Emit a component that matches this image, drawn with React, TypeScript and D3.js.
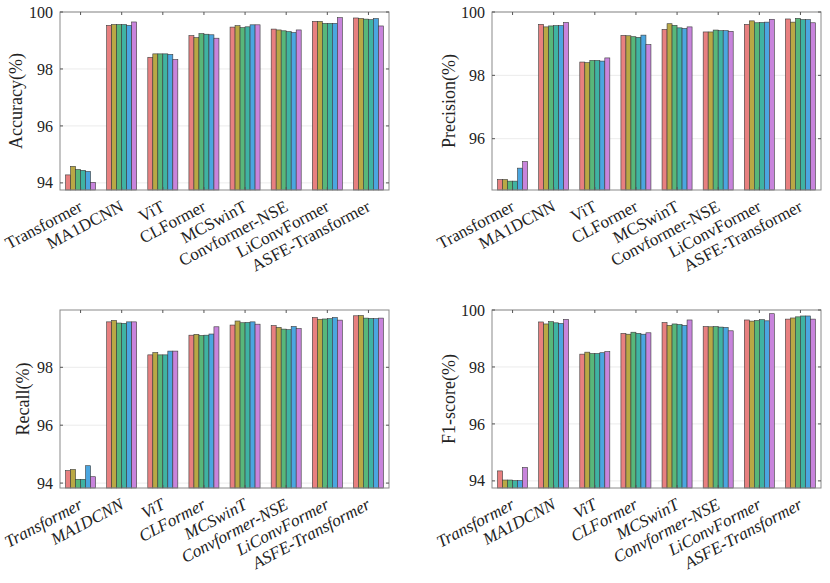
import { scaleLinear, scaleBand } from "d3";

const categories = [
  "Transformer",
  "MA1DCNN",
  "ViT",
  "CLFormer",
  "MCSwinT",
  "Convformer-NSE",
  "LiConvFormer",
  "ASFE-Transformer",
];

const seriesColors = ["#e88080", "#b9a845", "#58b77a", "#3fb3a3", "#4ba6e0", "#c884dc"];

const accuracy = [
  [94.28, 94.58, 94.47, 94.44, 94.4, 94.02],
  [99.53, 99.56, 99.56, 99.56, 99.53, 99.65],
  [98.41, 98.53, 98.53, 98.53, 98.51, 98.33],
  [99.17, 99.1, 99.24, 99.22, 99.2, 99.08],
  [99.47, 99.52, 99.45, 99.48, 99.55, 99.55],
  [99.4, 99.37, 99.34, 99.31, 99.28, 99.37],
  [99.67, 99.67, 99.6, 99.6, 99.6, 99.8],
  [99.79, 99.77, 99.75, 99.73, 99.77, 99.51],
];

const precision = [
  [94.71, 94.71, 94.66, 94.66, 95.07, 95.28],
  [99.61, 99.53, 99.56, 99.57, 99.57, 99.67],
  [98.42, 98.4, 98.47, 98.47, 98.45, 98.55],
  [99.26, 99.25, 99.22, 99.2, 99.27, 98.97],
  [99.45, 99.63, 99.58, 99.5, 99.48, 99.53],
  [99.37, 99.37, 99.43, 99.41, 99.41, 99.39],
  [99.61, 99.72, 99.66, 99.67, 99.68, 99.77],
  [99.78, 99.68, 99.8, 99.76, 99.76, 99.66],
];

const recall = [
  [94.43, 94.47, 94.13, 94.13, 94.6, 94.22],
  [99.57, 99.62, 99.53, 99.52, 99.57, 99.57],
  [98.43, 98.51, 98.43, 98.43, 98.56, 98.56],
  [99.11, 99.14, 99.1, 99.11, 99.15, 99.4],
  [99.46, 99.6, 99.54, 99.55, 99.57, 99.49],
  [99.44, 99.38, 99.32, 99.3, 99.41, 99.34],
  [99.72, 99.66, 99.67, 99.68, 99.72, 99.63],
  [99.78, 99.79, 99.7, 99.69, 99.68, 99.7],
];

const f1score = [
  [94.35, 94.03, 94.03, 94.01, 94.01, 94.47],
  [99.58, 99.51, 99.59, 99.55, 99.53, 99.67],
  [98.45, 98.52, 98.47, 98.47, 98.5, 98.54],
  [99.18, 99.15, 99.22, 99.18, 99.15, 99.2],
  [99.56, 99.46, 99.51, 99.49, 99.46, 99.65],
  [99.42, 99.41, 99.42, 99.4, 99.39, 99.27],
  [99.65, 99.61, 99.63, 99.66, 99.62, 99.87],
  [99.68, 99.72, 99.76, 99.79, 99.79, 99.68],
];

const accTicks = [94, 96, 98, 100];
const precTicks = [96, 98, 100];
const recTicks = [94, 96, 98];
const f1Ticks = [94, 96, 98, 100];

const FONT = "'Liberation Serif', 'Times New Roman', serif";

interface PanelProps {
  x: number;
  y: number;
  width: number;
  height: number;
  label: string;
  values: number[][];
  domain: [number, number];
  ticks: number[];
  labelX: number;
  italic?: boolean;
}

function Panel({ x, y, width, height, label, values, domain, ticks, labelX, italic }: PanelProps) {
  const xBand = scaleBand<string>().domain(categories).range([0, width]).paddingInner(0.27).paddingOuter(0.135);
  const inner = scaleBand<number>()
    .domain(seriesColors.map((_, i) => i))
    .range([0, xBand.bandwidth()]);
  const yScale = scaleLinear().domain(domain).range([height, 0]);

  return (
    <g transform={`translate(${x},${y})`}>
      {ticks.map((t) => (
        <line key={`g${t}`} x1={0} x2={width} y1={yScale(t)} y2={yScale(t)} stroke="#e6e6e6" strokeWidth={0.8} />
      ))}
      {categories.map((c, ci) =>
        values[ci].map((v, si) => (
          <rect
            key={`${c}-${si}`}
            x={(xBand(c) ?? 0) + (inner(si) ?? 0)}
            y={yScale(v)}
            width={inner.bandwidth()}
            height={height - yScale(v)}
            fill={seriesColors[si]}
            stroke="#3a3a3a"
            strokeWidth={0.6}
          />
        ))
      )}
      <rect x={0} y={0} width={width} height={height} fill="none" stroke="#8a8a8a" strokeWidth={1} />
      {ticks.map((t) => (
        <g key={`t${t}`}>
          <line x1={0} x2={3} y1={yScale(t)} y2={yScale(t)} stroke="#555" />
          <line x1={width - 3} x2={width} y1={yScale(t)} y2={yScale(t)} stroke="#555" />
          <text
            x={-7}
            y={yScale(t)}
            dy="0.35em"
            textAnchor="end"
            fontFamily={FONT}
            fontSize={16}
            fill="#222"
          >
            {t}
          </text>
        </g>
      ))}
      {categories.map((c) => {
        const cx = (xBand(c) ?? 0) + xBand.bandwidth() / 2;
        return (
          <g key={`x${c}`}>
            <line x1={cx} x2={cx} y1={0} y2={3} stroke="#555" />
            <line x1={cx} x2={cx} y1={height - 3} y2={height} stroke="#555" />
            <text
              transform={`translate(${cx + 3},${height + 20}) rotate(-28)`}
              textAnchor="end"
              fontFamily={FONT}
              fontSize={17}
              fontStyle={italic ? "italic" : "normal"}
              fill="#222"
            >
              {c}
            </text>
          </g>
        );
      })}
      <text
        transform={`translate(${labelX},${height / 2}) rotate(-90)`}
        textAnchor="middle"
        fontFamily={FONT}
        fontSize={18}
        fill="#222"
      >
        {label}
      </text>
    </g>
  );
}

export default function App() {
  return (
    <svg
      width={830}
      height={583}
      style={{ position: "absolute", left: 0, top: 0, background: "#fff" }}
    >
      <Panel x={60} y={12} width={329} height={178} label="Accuracy(%)" values={accuracy}
        domain={[93.75, 100]} ticks={accTicks} labelX={-38} />
      <Panel x={492} y={12} width={329} height={178} label="Precision(%)" values={precision}
        domain={[94.38, 100]} ticks={precTicks} labelX={-37} />
      <Panel x={60} y={310} width={329} height={178} label="Recall(%)" values={recall}
        domain={[93.83, 99.98]} ticks={recTicks} labelX={-31} italic />
      <Panel x={492} y={310} width={329} height={178} label="F1-score(%)" values={f1score}
        domain={[93.75, 100]} ticks={f1Ticks} labelX={-37} italic />
    </svg>
  );
}
